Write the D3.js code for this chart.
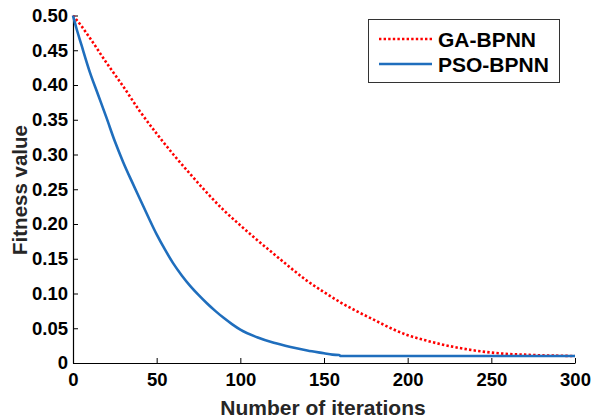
<!DOCTYPE html>
<html><head><meta charset="utf-8">
<script src="https://cdn.jsdelivr.net/npm/d3@7"></script>
<style>body{margin:0;background:#fff}svg{display:block}text{font-family:"Liberation Sans",Arial,sans-serif;font-weight:bold}</style>
</head><body><svg id="c" width="593" height="420"></svg>
<script>
const gaIter = [0,5,10,20,30,40,50,60,70,80,90,100,110,120,130,140,150,160,170,180,190,200,210,220,230,240,250,260,270,280,290,300];
const gaVal  = [0.500,0.485,0.468,0.432,0.398,0.362,0.330,0.300,0.272,0.245,0.220,0.198,0.177,0.157,0.137,0.118,0.102,0.087,0.074,0.062,0.050,0.040,0.033,0.027,0.022,0.018,0.015,0.013,0.012,0.011,0.0105,0.010];
const psoIter = [0,2,5,10,15,20,25,30,35,40,45,50,55,60,65,70,75,80,85,90,95,100,110,120,130,140,150,155,159,160,200,250,300];
const psoVal  = [0.500,0.482,0.458,0.419,0.386,0.353,0.319,0.289,0.262,0.236,0.210,0.185,0.163,0.143,0.126,0.111,0.098,0.086,0.075,0.065,0.056,0.048,0.037,0.029,0.023,0.018,0.014,0.012,0.0115,0.010,0.010,0.010,0.010];
const xTicks = [0,50,100,150,200,250,300];
const yTicks = [0,0.05,0.10,0.15,0.20,0.25,0.30,0.35,0.40,0.45,0.50];
const yTickLabels = ["0","0.05","0.10","0.15","0.20","0.25","0.30","0.35","0.40","0.45","0.50"];
const seriesNames = ["GA-BPNN","PSO-BPNN"];

const svg = d3.select("#c");
const x = d3.scaleLinear().domain([0,300]).range([73,575]);
const y = d3.scaleLinear().domain([0,0.5]).range([363,15.5]);

// axes
const xAxis = svg.append("g").attr("transform","translate(0,363)")
  .call(d3.axisBottom(x).tickValues(xTicks).tickSizeInner(-5).tickSizeOuter(0).tickPadding(10).tickFormat(d3.format("d")));
const yAxis = svg.append("g").attr("transform","translate(73,0)")
  .call(d3.axisLeft(y).tickValues(yTicks).tickSizeInner(-5).tickSizeOuter(0).tickPadding(5).tickFormat((d,i)=>yTickLabels[i]));
[xAxis,yAxis].forEach(a=>{
  a.select(".domain").attr("stroke","#000").attr("stroke-width",1.2);
  a.selectAll(".tick line").attr("stroke","#000").attr("stroke-width",1);
  a.selectAll("text").attr("fill","#000").style("font-size","18.5px").style("font-weight","bold").style("font-family","Liberation Sans, Arial, sans-serif");
});

const line = d3.line().x(d=>x(d[0])).y(d=>y(d[1])).curve(d3.curveMonotoneX);
svg.append("path").datum(gaIter.map((v,i)=>[v,gaVal[i]]))
  .attr("d",line).attr("fill","none").attr("stroke","#ff0000").attr("stroke-width",2.6).attr("stroke-dasharray","2.4,2.2");
svg.append("path").datum(psoIter.map((v,i)=>[v,psoVal[i]]))
  .attr("d",line).attr("fill","none").attr("stroke","#1f6ebd").attr("stroke-width",2.6);

// titles
svg.append("text").attr("x",323).attr("y",415).attr("text-anchor","middle")
  .attr("fill","#262626").style("font-size","21px").text("Number of iterations");
svg.append("text").attr("transform","translate(27,190) rotate(-90)").attr("text-anchor","middle")
  .attr("fill","#262626").style("font-size","20.5px").text("Fitness value");

// legend
const lg = svg.append("g");
lg.append("rect").attr("x",368.5).attr("y",19.5).attr("width",191).attr("height",63)
  .attr("fill","#fff").attr("stroke","#333").attr("stroke-width",1);
const ly = [39,64];
lg.append("line").attr("x1",379).attr("x2",432).attr("y1",ly[0]).attr("y2",ly[0])
  .attr("stroke","#ff0000").attr("stroke-width",2.6).attr("stroke-dasharray","2.4,2.2");
lg.append("line").attr("x1",379).attr("x2",432).attr("y1",ly[1]).attr("y2",ly[1])
  .attr("stroke","#1f6ebd").attr("stroke-width",2.6);
seriesNames.forEach((n,i)=>{
  lg.append("text").attr("x",438).attr("y",ly[i]).attr("dy","0.36em").attr("fill","#000")
    .style("font-size","21px").text(n);
});
</script></body></html>
